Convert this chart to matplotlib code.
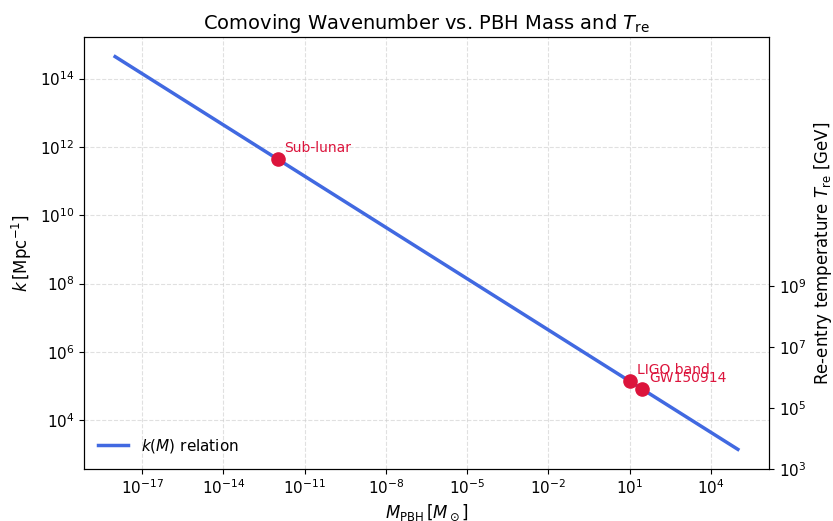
import numpy as np
import matplotlib
matplotlib.use("Agg")
import matplotlib.pyplot as plt

# Data
mass = [1e-18, 1e-12, 1e-6, 1.0, 1e5]          # M_PBH [M_sun]
k_vals = [4.4e14, 4.4e11, 4.4e8, 4.4e5, 1.4e3]  # k [Mpc^-1]

pt_names = ["Sub-lunar", "LIGO band", "GW150914"]
pt_mass = [1e-12, 10.0, 30.0]
pt_k = [4.4e11, 1.4e5, 8.0e4]

t_ticks = [1e3, 1e5, 1e7, 1e9]
t_lim = (1e3, 10**17.2)

fig = plt.figure(figsize=(8.33, 5.21), dpi=100)
ax = fig.add_axes([84/833, 1 - 469/521, 685/833, 432/521])

ax.plot(mass, k_vals, color="#4169E1", lw=2.5, label="$k(M)$ relation")
ax.set_xscale("log")
ax.set_yscale("log")
ax.scatter(pt_mass, pt_k, color="#DC143C", s=90, zorder=5)
for n, m, kk in zip(pt_names, pt_mass, pt_k):
    ax.annotate(n, (m, kk), xytext=(5, 5), textcoords="offset points",
                color="#DC143C", fontsize=10)

ax.grid(True, which="major", ls="--", color="#cccccc", alpha=0.6)
ax.set_xlabel(r"$M_{\rm PBH}\,[M_\odot]$", fontsize=12)
ax.set_ylabel(r"$k\,[\mathrm{Mpc}^{-1}]$", fontsize=12)
ax.set_title(r"Comoving Wavenumber vs. PBH Mass and $T_{\rm re}$", fontsize=14)
ax.tick_params(labelsize=11)
ax.minorticks_off()
ax.legend(loc="lower left", frameon=False, fontsize=11)

ax2 = ax.twinx()
ax2.set_yscale("log")
ax2.set_ylim(*t_lim)
ax2.set_yticks(t_ticks)
ax2.minorticks_off()
ax2.tick_params(labelsize=11)
ax2.set_ylabel(r"Re-entry temperature $T_{\rm re}$ [GeV]", fontsize=12)

fig.savefig("out.png", dpi=100)
